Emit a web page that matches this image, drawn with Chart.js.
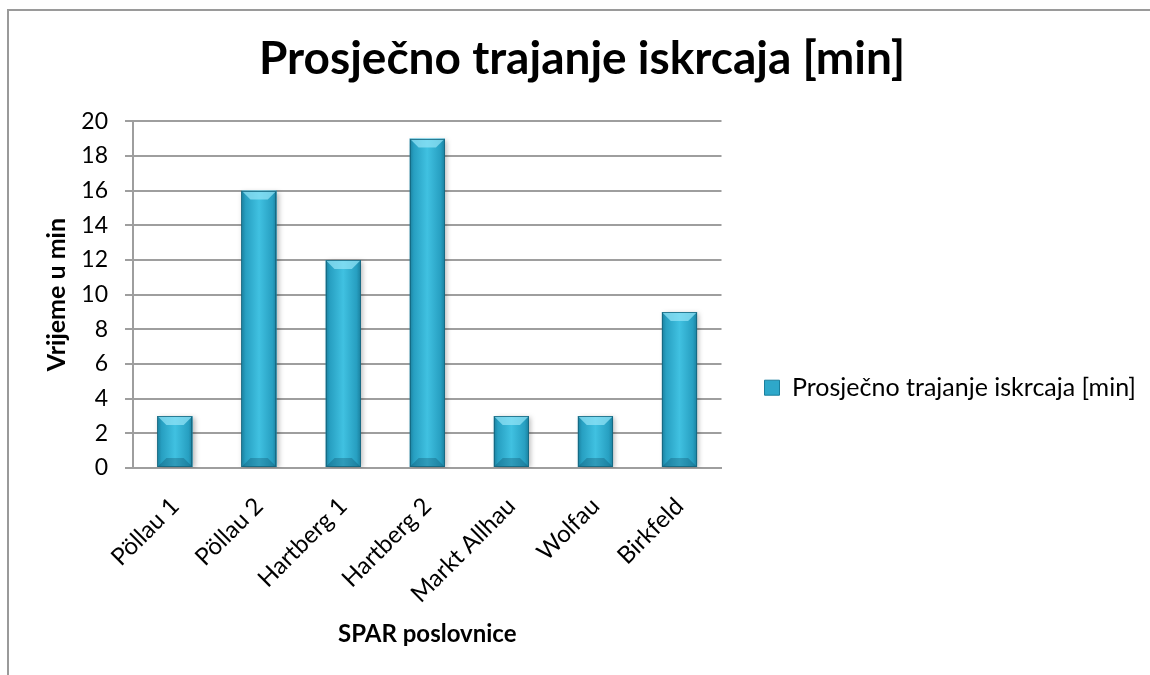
<!DOCTYPE html>
<html>
<head>
<meta charset="utf-8">
<script src="https://cdn.jsdelivr.net/npm/chart.js@4.4.1/dist/chart.umd.min.js"></script>
<style>
  html, body { margin: 0; padding: 0; background: #fff; overflow: hidden; }
  #wrap { position: relative; width: 1150px; height: 675px; }
  #frame {
    position: absolute; left: 7px; top: 9px; width: 2000px; height: 2000px;
    border-top: 2px solid #9a9a9a; border-left: 2px solid #9a9a9a;
  }
  canvas { position: absolute; left: 0; top: 0; }
</style>
</head>
<body>
<div id="wrap">
  <div id="frame"></div>
  <canvas id="chart" width="1150" height="675"></canvas>
</div>
<script>
const stores = ['Pöllau 1', 'Pöllau 2', 'Hartberg 1', 'Hartberg 2', 'Markt Allhau', 'Wolfau', 'Birkfeld'];
const unloadMinutes = [3, 16, 12, 19, 3, 3, 9];
const yTicks = [0, 2, 4, 6, 8, 10, 12, 14, 16, 18, 20];
const seriesName = 'Prosječno trajanje iskrcaja [min]';
const chartTitle = 'Prosječno trajanje iskrcaja [min]';
const yTitle = 'Vrijeme u min';
const xTitle = 'SPAR poslovnice';

const BAR_PCT = 0.42;
const gridColor = '#9e9e9e';

Chart.defaults.font.family = 'Lato, "Open Sans", sans-serif';
Chart.defaults.color = '#000';

// horizontal shading so each bar looks like a rounded column
function barFill(ctx) {
  const chart = ctx.chart;
  const xs = chart.scales.x;
  if (ctx.type !== 'data' || !xs) {
    return '#2fa9cb';
  }
  const cx = xs.getPixelForValue(ctx.dataIndex);
  const half = (xs.width / stores.length) * BAR_PCT / 2;
  if (!Number.isFinite(cx) || !Number.isFinite(half) || half <= 0) {
    return '#2fa9cb';
  }
  const g = chart.ctx.createLinearGradient(cx - half, 0, cx + half, 0);
  g.addColorStop(0, '#1a7f9d');
  g.addColorStop(0.12, '#279fc1');
  g.addColorStop(0.5, '#40c1e1');
  g.addColorStop(0.88, '#279fc1');
  g.addColorStop(1, '#1a7f9d');
  return g;
}

const barBevel = {
  id: 'barBevel',
  beforeDatasetsDraw(chart) {
    const c = chart.ctx;
    c.save();
    c.shadowColor = 'rgba(0,0,0,0.28)';
    c.shadowBlur = 5;
    c.shadowOffsetX = 2;
    c.shadowOffsetY = 1;
  },
  afterDatasetsDraw(chart) {
    const c = chart.ctx;
    c.restore();
    const meta = chart.getDatasetMeta(0);
    meta.data.forEach((bar) => {
      const { x, y, base, width } = bar.getProps(['x', 'y', 'base', 'width'], true);
      const l = x - width / 2;
      const r = x + width / 2;
      const b = Math.min(9, (base - y) / 2);
      c.save();
      // top bevel
      c.beginPath();
      c.moveTo(l, y);
      c.lineTo(r, y);
      c.lineTo(r - b, y + b);
      c.lineTo(l + b, y + b);
      c.closePath();
      c.fillStyle = 'rgba(150,230,248,0.7)';
      c.fill();
      // bottom bevel
      c.beginPath();
      c.moveTo(l, base);
      c.lineTo(r, base);
      c.lineTo(r - b, base - b);
      c.lineTo(l + b, base - b);
      c.closePath();
      c.fillStyle = 'rgba(10,70,95,0.3)';
      c.fill();
      // outline
      c.strokeStyle = 'rgba(20,100,125,0.8)';
      c.lineWidth = 1;
      c.strokeRect(Math.round(l) + 0.5, Math.round(y) + 0.5, Math.round(width) - 1, Math.round(base - y) - 1);
      c.restore();
    });
  }
};

new Chart(document.getElementById('chart'), {
  type: 'bar',
  data: {
    labels: stores,
    datasets: [
      {
        label: seriesName,
        data: unloadMinutes,
        backgroundColor: barFill,
        borderWidth: 0,
        categoryPercentage: 1,
        barPercentage: BAR_PCT
      }
    ]
  },
  options: {
    responsive: false,
    animation: false,
    layout: {
      padding: { left: 18, right: 4, top: 0, bottom: 0 }
    },
    plugins: {
      tooltip: { enabled: false },
      title: {
        display: true,
        text: chartTitle,
        font: { size: 46, weight: 'bold' },
        color: '#000',
        padding: { top: 32, bottom: 34 }
      },
      legend: {
        position: 'right',
        align: 'center',
        maxWidth: 600,
        title: {
          display: true,
          text: '',
          padding: { top: 86, bottom: 0 }
        },
        labels: {
          boxWidth: 15,
          boxHeight: 15,
          padding: 43,
          font: { size: 25 },
          color: '#000',
          generateLabels(chart) {
            const items = Chart.defaults.plugins.legend.labels.generateLabels(chart);
            items.forEach((item) => {
              item.fillStyle = '#2ea8ca';
              item.strokeStyle = '#1a7f9d';
              item.lineWidth = 1;
            });
            return items;
          }
        }
      }
    },
    scales: {
      x: {
        afterFit(scale) {
          scale.height = 207;
        },
        grid: { display: false, drawTicks: false },
        border: { display: true, color: gridColor, width: 2 },
        ticks: {
          font: { size: 24 },
          color: '#000',
          maxRotation: 45,
          minRotation: 45,
          labelOffset: 0,
          padding: 24
        },
        title: {
          display: true,
          text: xTitle,
          font: { size: 24, weight: 'bold' },
          color: '#000',
          padding: { top: 0, bottom: 26 }
        }
      },
      y: {
        min: 0,
        max: 20,
        afterFit(scale) {
          scale.width = 115;
        },
        afterBuildTicks(scale) {
          scale.ticks = yTicks.map((v) => ({ value: v }));
        },
        grid: { color: gridColor, lineWidth: 2, tickLength: 8 },
        border: { display: true, color: gridColor, width: 2 },
        ticks: {
          font: { size: 23 },
          color: '#000',
          padding: 17
        },
        title: {
          display: true,
          text: yTitle,
          font: { size: 25, weight: 'bold' },
          color: '#000',
          padding: { top: 24, bottom: 0 }
        }
      }
    }
  },
  plugins: [barBevel]
});
</script>
</body>
</html>
